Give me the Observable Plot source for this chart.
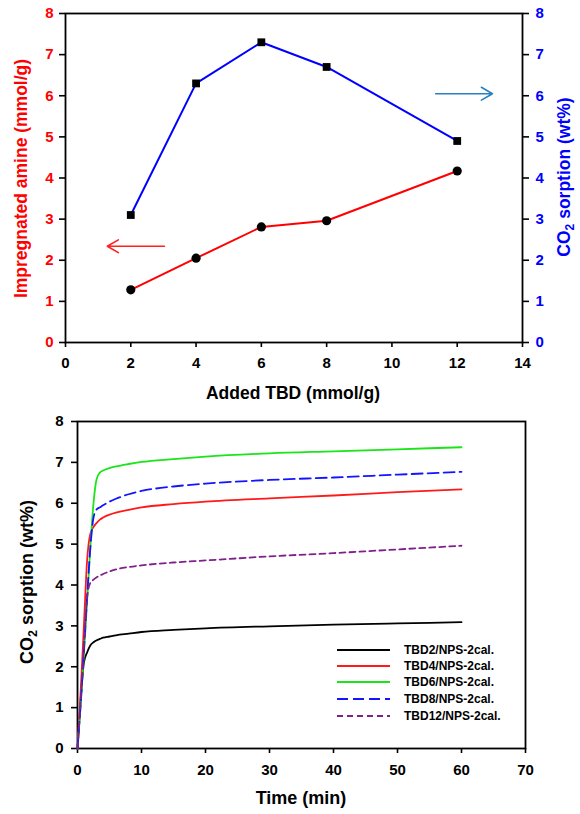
<!DOCTYPE html>
<html>
<head>
<meta charset="utf-8">
<script src="https://cdn.jsdelivr.net/npm/d3@7"></script>
<script src="https://cdn.jsdelivr.net/npm/@observablehq/plot@0.6"></script>
<style>
  body { margin: 0; background: #fff; }
  #chart { width: 580px; }
  #chart svg { display: block; }
</style>
</head>
<body>
<div id="chart"></div>
<script>
// ---------- Top panel data ----------
const addedTBD = [2, 4, 6, 8, 12];
const impregnatedAmine = [1.28, 2.05, 2.81, 2.96, 4.17];
const co2Sorption = [3.1, 6.3, 7.3, 6.7, 4.9];
const topXTicks = [0, 2, 4, 6, 8, 10, 12, 14];
const yTicks = [0, 1, 2, 3, 4, 5, 6, 7, 8];
// annotation arrows (data units): amine arrow points left, CO2 arrow points right
const amineArrow = { from: 3.03, to: 1.28, level: 2.34 };
const co2Arrow = { from: 11.34, to: 13.08, level: 6.05 };

// ---------- Bottom panel data ----------
const timeMin = [0, 0.5, 1, 1.5, 2, 2.5, 3, 3.5, 4, 5, 6, 8, 10, 15, 20, 30, 40, 50, 60];
const tbd2  = [0, 1.2, 2.1, 2.35, 2.52, 2.6, 2.65, 2.68, 2.71, 2.74, 2.77, 2.81, 2.85, 2.9, 2.94, 2.99, 3.03, 3.06, 3.09];
const tbd4  = [0, 1.4, 3.0, 4.6, 5.25, 5.42, 5.52, 5.6, 5.65, 5.72, 5.77, 5.84, 5.9, 5.98, 6.04, 6.12, 6.19, 6.27, 6.34];
const tbd6  = [0, 1.1, 2.3, 3.6, 4.9, 6.0, 6.6, 6.75, 6.8, 6.86, 6.9, 6.96, 7.01, 7.08, 7.14, 7.22, 7.27, 7.32, 7.37];
const tbd8  = [0, 1.1, 2.4, 3.7, 4.9, 5.65, 5.85, 5.9, 5.95, 6.04, 6.11, 6.22, 6.3, 6.41, 6.48, 6.57, 6.63, 6.7, 6.77];
const tbd12 = [0, 1.2, 2.5, 3.7, 4.05, 4.13, 4.19, 4.23, 4.27, 4.33, 4.38, 4.44, 4.48, 4.55, 4.6, 4.7, 4.78, 4.87, 4.96];
const seriesNames = ["TBD2/NPS-2cal.", "TBD4/NPS-2cal.", "TBD6/NPS-2cal.", "TBD8/NPS-2cal.", "TBD12/NPS-2cal."];
const bottomXTicks = [0, 10, 20, 30, 40, 50, 60, 70];

// ---------- styles ----------
const seriesStyle = [
  { stroke: "#000000", dash: null },
  { stroke: "#ff1a1a", dash: null },
  { stroke: "#19e619", dash: null },
  { stroke: "#1414ff", dash: "11,5" },
  { stroke: "#80208a", dash: "6,4" }
];
const FONT = "'Liberation Sans', Arial, Helvetica, sans-serif";
const baseStyle = { fontFamily: FONT, fontWeight: "bold", fontSize: "15px", background: "white", overflow: "visible", color: "black" };

const topRows = addedTBD.map((x, i) => ({ tbd: x, amine: impregnatedAmine[i], co2: co2Sorption[i] }));

const topPlot = Plot.plot({
  width: 580, height: 405,
  marginTop: 13, marginBottom: 63, marginLeft: 65, marginRight: 58,
  style: baseStyle,
  x: { domain: [0, 14] },
  y: { domain: [0, 8] },
  marks: [
    Plot.frame({ strokeWidth: 1.8 }),
    Plot.axisX({ ticks: topXTicks, anchor: "bottom", tickSize: 5, tickPadding: 10, label: null, stroke: "black", fill: "black", strokeWidth: 1.6 }),
    Plot.axisY({ ticks: yTicks, anchor: "left", tickSize: 6, tickPadding: 6, label: null, stroke: "black", fill: "#ff0000", strokeWidth: 1.6 }),
    Plot.axisY({ ticks: yTicks, anchor: "right", tickSize: 6, tickPadding: 7, label: null, stroke: "black", fill: "#0000ff", strokeWidth: 1.6 }),
    Plot.line(topRows, { x: "tbd", y: "co2", stroke: "#0000ff", strokeWidth: 2 }),
    Plot.line(topRows, { x: "tbd", y: "amine", stroke: "#ff0000", strokeWidth: 2 }),
    Plot.dot(topRows, { x: "tbd", y: "co2", symbol: "square", r: 4.4, fill: "black", stroke: "none" }),
    Plot.dot(topRows, { x: "tbd", y: "amine", r: 4.6, fill: "black", stroke: "none" }),
    Plot.arrow([amineArrow], { x1: "from", x2: "to", y1: "level", y2: "level", stroke: "#ff2020", strokeWidth: 1.6, headLength: 12 }),
    Plot.arrow([co2Arrow], { x1: "from", x2: "to", y1: "level", y2: "level", stroke: "#2a80c0", strokeWidth: 1.6, headLength: 12 })
  ]
});

// titles for top panel
(function () {
  const svg = d3.select(topPlot);
  svg.append("text")
    .attr("x", 293).attr("y", 399)
    .attr("text-anchor", "middle").attr("font-size", 17.5).attr("fill", "black")
    .text("Added TBD (mmol/g)");
  svg.append("text")
    .attr("transform", "translate(27,178.5) rotate(-90)")
    .attr("text-anchor", "middle").attr("font-size", 17.5).attr("fill", "#ff0000")
    .text("Impregnated amine (mmol/g)");
  const t = svg.append("text")
    .attr("transform", "translate(570,177) rotate(-90)")
    .attr("text-anchor", "middle").attr("font-size", 17.5).attr("fill", "#0000ff");
  t.append("tspan").text("CO");
  t.append("tspan").attr("font-size", 12).attr("dy", 4).text("2");
  t.append("tspan").attr("dy", -4).text(" sorption (wt%)");
})();

// ---------- bottom panel ----------
const allSeries = [tbd2, tbd4, tbd6, tbd8, tbd12];
const bottomRows = allSeries.map((vals, s) => timeMin.map((t, i) => ({ t, v: vals[i], name: seriesNames[s] })));

const bottomPlot = Plot.plot({
  width: 580, height: 409,
  marginTop: 16, marginBottom: 66, marginLeft: 77, marginRight: 55,
  style: baseStyle,
  x: { domain: [0, 70] },
  y: { domain: [0, 8] },
  marks: [
    Plot.frame({ strokeWidth: 1.8 }),
    Plot.axisX({ ticks: bottomXTicks, anchor: "bottom", tickSize: 5, tickPadding: 11, label: null, stroke: "black", fill: "black", strokeWidth: 1.6 }),
    Plot.axisY({ ticks: yTicks, anchor: "left", tickSize: 6, tickPadding: 8, label: null, stroke: "black", fill: "black", strokeWidth: 1.6 }),
    ...bottomRows.map((rows, s) => Plot.line(rows, {
      x: "t", y: "v", stroke: seriesStyle[s].stroke, strokeWidth: 1.8,
      strokeDasharray: seriesStyle[s].dash, curve: "monotone-x"
    }))
  ]
});

(function () {
  const svg = d3.select(bottomPlot);
  svg.append("text")
    .attr("x", 301).attr("y", 399)
    .attr("text-anchor", "middle").attr("font-size", 18).attr("fill", "black")
    .text("Time (min)");
  const t = svg.append("text")
    .attr("transform", "translate(33,177) rotate(-90)")
    .attr("text-anchor", "middle").attr("font-size", 18).attr("fill", "black");
  t.append("tspan").text("CO");
  t.append("tspan").attr("font-size", 12.5).attr("dy", 4).text("2");
  t.append("tspan").attr("dy", -4).text(" sorption (wt%)");

  // legend
  const rowY = [245, 261, 277, 294, 311];
  const lg = svg.append("g").attr("text-anchor", "start");
  seriesNames.forEach((name, s) => {
    lg.append("line")
      .attr("x1", 337).attr("x2", 390).attr("y1", rowY[s]).attr("y2", rowY[s])
      .attr("stroke", seriesStyle[s].stroke).attr("stroke-width", 1.8)
      .attr("stroke-dasharray", seriesStyle[s].dash);
    lg.append("text")
      .attr("x", 404).attr("y", rowY[s]).attr("dy", "0.35em")
      .attr("text-anchor", "start")
      .attr("font-size", 12).attr("fill", "black")
      .text(name);
  });
})();

document.getElementById("chart").append(topPlot, bottomPlot);
</script>
</body>
</html>
